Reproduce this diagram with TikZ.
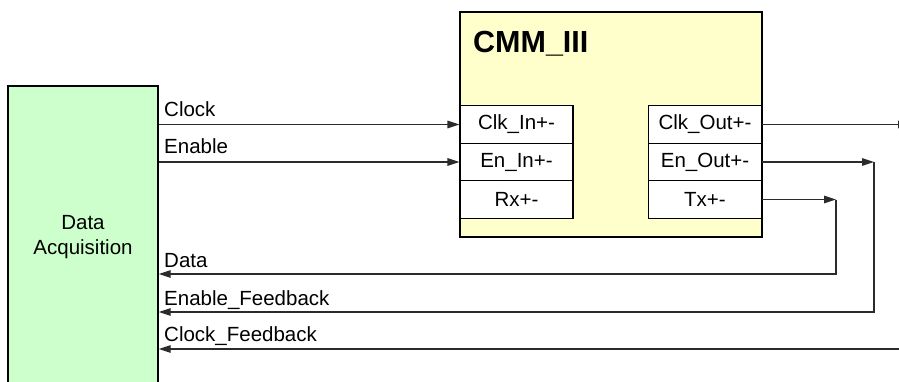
\documentclass[tikz,border=0pt]{standalone}
\usepackage{fontspec}
\setmainfont{Liberation Sans}
\usetikzlibrary{arrows.meta}
\definecolor{daqgreen}{HTML}{CCFFCC}
\definecolor{cmmyellow}{HTML}{FFFFCC}
\definecolor{wire}{HTML}{2B2B2B}

\begin{document}
\begin{tikzpicture}[x=1pt, y=-1pt, font=\fontsize{20.5}{25}\selectfont,
		blk/.style={draw=black, line width=1.4pt, inner sep=0pt},
		port/.style={draw=black, line width=1.1pt, fill=white, minimum width=113pt, minimum height=37.5pt, inner sep=0pt},
		sig/.style={draw=wire, line width=1.4pt},
		arr/.style={sig, -{Triangle[length=12pt,width=7.5pt]}},
		lbl/.style={anchor=base west, inner sep=0pt}]
		\useasboundingbox (0,0) rectangle (899,381);
		\clip (0,0) rectangle (899,381);
		% blocks
		\node[blk, fill=daqgreen, minimum width=150pt, minimum height=302pt, align=center] (daq) at (83,237) {Data\\Acquisition};
		\node[blk, fill=cmmyellow, minimum width=302pt, minimum height=225pt] (cmm) at (611,124.5) {};
		\node[lbl, font=\fontsize{30.5}{36}\selectfont\bfseries] (title) at (473,52) {CMM\_III};
		% ports
		\foreach \nm/\txt/\yy in {clkin/Clk\_In+-/124.5, enin/En\_In+-/162, rxin/Rx+-/199.5}{
			\node[port] (\nm) at (516.5,\yy) {\txt};
		}
		\foreach \nm/\txt/\yy in {clkout/Clk\_Out+-/124.5, enout/En\_Out+-/162, txout/Tx+-/199.5}{
			\node[port] (\nm) at (705,\yy) {\txt};
		}
		% forward signals
		\draw[arr] (daq.east |- clkin) -- (clkin.west);
		\draw[arr] (daq.east |- enin) -- (enin.west);
		\node[lbl] (clklbl) at (164,116) {Clock};
		\node[lbl] (enlbl) at (164,153) {Enable};
		% return paths
		\coordinate (clkend) at (910,124.5);
		\coordinate (encorner) at (874,162);
		\coordinate (txcorner) at (836,199.5);
		\coordinate (datarow) at (0,274);
		\coordinate (enrow) at (0,312);
		\coordinate (clkfbstart) at (910,349);
		\draw[arr] (clkout.east) -- (clkend);
		\draw[arr] (enout.east) -- (encorner);
		\draw[arr] (encorner) |- (daq.east |- enrow);
		\draw[arr] (txout.east) -- (txcorner);
		\draw[arr] (txcorner) |- (daq.east |- datarow);
		\draw[arr] (clkfbstart) -- (daq.east |- clkfbstart);
		\node[lbl] (datalbl) at (164,267) {Data};
		\node[lbl] (enfblbl) at (164,305) {Enable\_Feedback};
		\node[lbl] (clkfblbl) at (164,341) {Clock\_Feedback};
	\end{tikzpicture}
\end{document}
